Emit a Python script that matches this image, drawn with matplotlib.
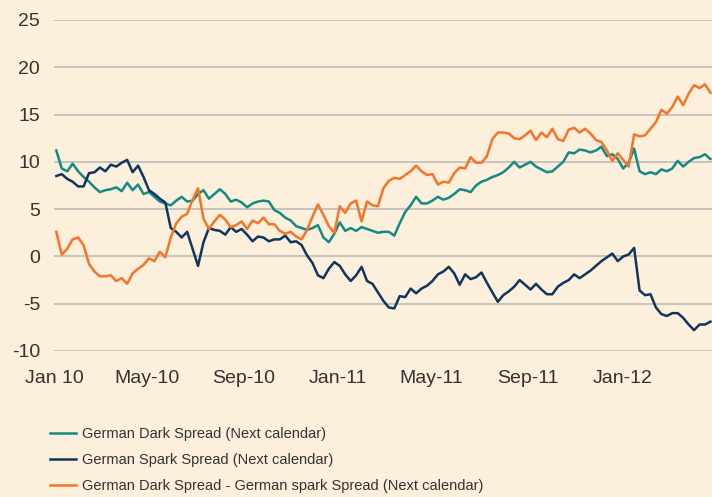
import numpy as np
import pandas as pd
import matplotlib
matplotlib.use('Agg')
import matplotlib.pyplot as plt

# Weekly readings, Jan 2010 - Apr 2012
dates = pd.date_range('2010-01-04', periods=121, freq='7D')

dark_spread = [
    11.2, 9.3, 9.0, 9.8, 9.0, 8.4, 7.9, 7.3, 6.8, 7.0,
    7.1, 7.3, 6.9, 7.8, 7.0, 7.6, 6.6, 6.8, 6.3, 5.8,
    5.6, 5.4, 5.9, 6.3, 5.8, 5.9, 6.6, 7.0, 6.1, 6.6,
    7.1, 6.6, 5.8, 6.0, 5.7, 5.2, 5.6, 5.8, 5.9, 5.8,
    4.9, 4.6, 4.1, 3.8, 3.2, 3.0, 2.8, 3.0, 3.3, 2.0,
    1.5, 2.4, 3.6, 2.7, 3.0, 2.7, 3.1, 2.9, 2.7, 2.5,
    2.6, 2.6, 2.2, 3.5, 4.7, 5.4, 6.3, 5.6, 5.6, 5.9,
    6.3, 6.0, 6.2, 6.6, 7.1, 7.0, 6.8, 7.5, 7.9, 8.1,
    8.4, 8.6, 8.9, 9.4, 10.0, 9.4, 9.7, 10.0, 9.5, 9.2,
    8.9, 9.0, 9.5, 10.0, 11.0, 10.9, 11.3, 11.2, 11.0, 11.2,
    11.6, 10.6, 10.8, 10.3, 9.3, 9.9, 11.4, 9.0, 8.7, 8.9,
    8.7, 9.2, 9.0, 9.3, 10.1, 9.5, 10.0, 10.4, 10.5, 10.8,
    10.3,
]

spark_spread = [
    8.5, 8.7, 8.2, 7.9, 7.4, 7.4, 8.8, 8.9, 9.4, 9.0,
    9.7, 9.5, 9.9, 10.2, 8.9, 9.6, 8.4, 7.0, 6.6, 6.1,
    5.7, 3.0, 2.6, 2.0, 2.6, 0.8, -1.0, 1.5, 3.0, 2.8,
    2.7, 2.3, 3.1, 2.6, 2.9, 2.3, 1.6, 2.1, 2.0, 1.6,
    1.8, 1.8, 2.2, 1.5, 1.6, 1.2, 0.1, -0.7, -2.0, -2.3,
    -1.3, -0.6, -1.0, -1.9, -2.6, -2.0, -1.1, -2.6, -2.9, -3.8,
    -4.7, -5.4, -5.5, -4.2, -4.3, -3.4, -3.9, -3.4, -3.1, -2.6,
    -1.9, -1.6, -1.1, -1.8, -3.0, -1.9, -2.4, -2.2, -1.7, -2.8,
    -3.8, -4.8, -4.1, -3.7, -3.2, -2.5, -3.0, -3.5, -2.9, -3.5,
    -4.0, -4.0, -3.2, -2.8, -2.5, -1.9, -2.3, -1.9, -1.5, -1.0,
    -0.5, -0.1, 0.3, -0.5, 0.0, 0.2, 0.9, -3.6, -4.1, -4.0,
    -5.4, -6.1, -6.3, -6.0, -6.0, -6.5, -7.2, -7.8, -7.2, -7.2,
    -6.9,
]

dark_minus_spark = [
    2.6, 0.2, 0.8, 1.8, 2.0, 1.2, -0.8, -1.6, -2.1, -2.1,
    -2.0, -2.6, -2.3, -2.9, -1.8, -1.3, -0.9, -0.2, -0.5, 0.5,
    -0.1, 2.0, 3.5, 4.2, 4.5, 6.0, 7.2, 4.0, 2.9, 3.7,
    4.4, 3.9, 3.1, 3.3, 3.7, 2.9, 3.8, 3.5, 4.1, 3.4,
    3.4, 2.7, 2.4, 2.6, 2.1, 1.8, 2.8, 4.2, 5.5, 4.4,
    3.2, 2.5, 5.3, 4.6, 5.6, 5.9, 3.7, 5.8, 5.4, 5.3,
    7.2, 8.0, 8.3, 8.2, 8.6, 9.0, 9.6, 9.0, 8.6, 8.7,
    7.6, 7.9, 7.8, 8.8, 9.4, 9.3, 10.5, 9.9, 9.9, 10.6,
    12.4, 13.1, 13.1, 13.0, 12.5, 12.4, 12.8, 13.3, 12.3, 13.1,
    12.6, 13.5, 12.4, 12.2, 13.4, 13.6, 13.1, 13.5, 13.0, 12.3,
    12.1, 11.2, 10.1, 10.9, 10.2, 9.5, 12.9, 12.7, 12.8, 13.5,
    14.2, 15.5, 15.1, 15.8, 16.9, 16.0, 17.2, 18.1, 17.8, 18.2,
    17.3,
]

labels = [
    'German Dark Spread (Next calendar)',
    'German Spark Spread (Next calendar)',
    'German Dark Spread - German spark Spread (Next calendar)',
]
colors = ['#138a84', '#0f365e', '#f47428']

tick_dates = pd.to_datetime(['2010-01-01', '2010-05-01', '2010-09-01', '2011-01-01',
                             '2011-05-01', '2011-09-01', '2012-01-01'])
tick_labels = ['Jan 10', 'May-10', 'Sep-10', 'Jan-11', 'May-11', 'Sep-11', 'Jan-12']

plt.rcParams['font.family'] = ['Liberation Sans', 'DejaVu Sans']
plt.rcParams['axes.unicode_minus'] = False
bg = '#fcefdb'

fig = plt.figure(figsize=(7.12, 4.97), dpi=100, facecolor=bg)
ax = fig.add_axes([0.0758, 0.2938, 0.9242, 0.666])
ax.set_facecolor(bg)

for vals, lab, col in zip([dark_spread, spark_spread, dark_minus_spark], labels, colors):
    ax.plot(dates, vals, color=col, linewidth=1.8, label=lab)

ax.set_ylim(-10, 25)
ax.set_yticks(np.arange(-10, 26, 5))
ax.set_xlim(pd.Timestamp('2010-01-01'), pd.Timestamp('2012-04-25'))
ax.set_xticks(tick_dates)
ax.set_xticklabels(tick_labels)

ax.grid(axis='y', color='#b8b8b8', linewidth=1.1)
ax.set_axisbelow(True)
for s in ax.spines.values():
    s.set_visible(False)
ax.tick_params(axis='both', length=0, labelsize=14, colors='#333333')
ax.tick_params(axis='y', pad=10)
ax.tick_params(axis='x', pad=14)

ax.legend(loc='upper left', bbox_to_anchor=(0.0705, 0.141), bbox_transform=fig.transFigure,
          frameon=False, fontsize=10.5, handlelength=1.75, handletextpad=0.4,
          labelspacing=0.82, borderaxespad=0, borderpad=0, labelcolor='#333333')

plt.savefig('out.png', dpi=100, facecolor=bg)
